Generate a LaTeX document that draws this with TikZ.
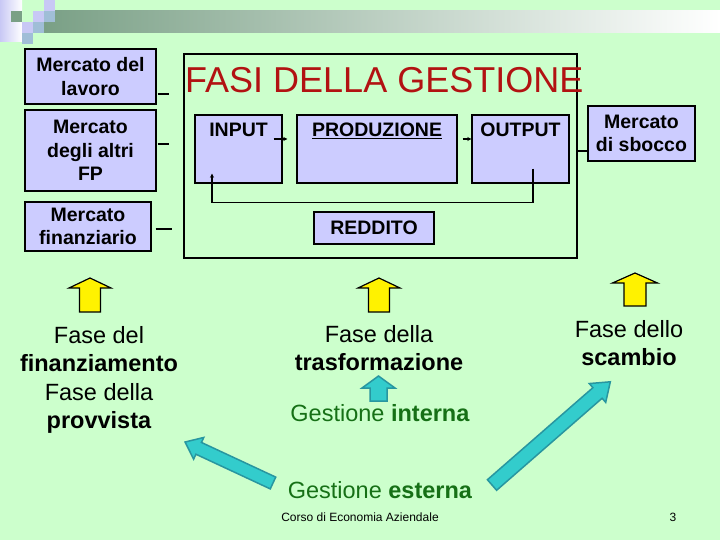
\documentclass[tikz,border=0pt]{standalone}
\usepackage{fontspec}
\setmainfont{Liberation Sans}
\usetikzlibrary{positioning,arrows.meta}

\definecolor{sfondo}{RGB}{204,255,204}
\definecolor{lilla}{RGB}{204,204,255}
\definecolor{rosso}{RGB}{178,18,18}
\definecolor{verde}{RGB}{22,112,22}
\definecolor{ciano}{RGB}{51,204,204}
\definecolor{cianoscuro}{RGB}{40,150,160}
\definecolor{grigioverde}{RGB}{122,160,134}
\definecolor{azzurrino}{RGB}{160,190,215}
\definecolor{lavanda}{RGB}{200,200,245}

\tikzset{
  mercato/.style={draw, line width=1.4pt, fill=lilla, align=center, inner sep=0pt,
    font=\fontsize{19.5}{23.5}\selectfont\bfseries},
  fase/.style={draw, line width=1.4pt, fill=lilla, inner sep=0pt},
  etichetta/.style={font=\fontsize{19.5}{23.5}\selectfont\bfseries, inner sep=0pt},
  collega/.style={line width=1.2pt},
  freccina/.style={line width=1.2pt, -{Stealth[length=4pt,width=4pt]}},
  testo/.style={align=center, inner sep=0pt, font=\fontsize{23.5}{28.5}\selectfont},
  giallo/.style={fill=yellow, draw=black, line width=1.2pt},
  turchese/.style={fill=ciano, draw=cianoscuro, line width=1.5pt},
  pics/blocco/.style args={#1/#2/#3/#4}{code={%
    \path[pic actions] (0,-#2) -- (#1-#4,-#2) -- (#1-#4,-#3) -- (#1,0)
      -- (#1-#4,#3) -- (#1-#4,#2) -- (0,#2) -- cycle;}}
}

\begin{document}
\begin{tikzpicture}[x=1pt,y=-1pt]
  \fill[sfondo] (0,0) rectangle (720,540);
  \useasboundingbox (0,0) rectangle (720,540);

  % fascia in alto
  \shade[left color=grigioverde, right color=white] (44,11) rectangle (720,33);
  \shade[left color=lavanda, right color=white] (0,0) rectangle (22,42);
  \fill[grigioverde] (11,11) rectangle (22,22);
  \fill[lavanda] (22,22) rectangle (33,33);
  \fill[lavanda] (33,11) rectangle (44,22);
  \fill[lavanda] (44,0) rectangle (55,11);
  \fill[azzurrino] (22,33) rectangle (33,44);
  \fill[azzurrino] (33,22) rectangle (44,33);
  \fill[azzurrino] (44,11) rectangle (55,22);

  % mercati
  \node[mercato, minimum width=131, minimum height=55] (lavoro) at (90.5,76.5) {Mercato del\\lavoro};
  \node[mercato, minimum width=131, minimum height=81] (altri) at (90.5,150.5) {Mercato\\degli altri\\FP};
  \node[mercato, minimum width=126, minimum height=49] (finanz) at (88,226.5) {Mercato\\finanziario};
  \node[mercato, minimum width=107, minimum height=55] (sbocco) at (641.5,133.5) {Mercato\\di sbocco};

  \draw[collega] ([xshift=1pt,yshift=-17.5pt]lavoro.east) -- ++(11,0);
  \draw[collega] ([xshift=1pt,yshift=6.5pt]altri.east) -- ++(11,0);
  \draw[collega] ([xshift=4pt,yshift=-2.5pt]finanz.east) -- ++(16,0);

  % gestione
  \node[draw, line width=1.4pt, minimum width=393, minimum height=204, inner sep=0pt] (gestione) at (380.5,156) {};
  \node[anchor=base west, inner sep=0pt, text=rosso, font=\fontsize{36}{40}\selectfont] (titolo) at (185,93) {FASI DELLA GESTIONE};

  \node[fase, minimum width=87, minimum height=68] (input) at (238.5,149) {};
  \node[fase, minimum width=160, minimum height=68] (prod) at (377,149) {};
  \node[fase, minimum width=97, minimum height=68] (output) at (520.5,149) {};
  \node[mercato, minimum width=120, minimum height=32] (reddito) at (374,228) {REDDITO};

  \node[etichetta, anchor=base] (inputlbl) at ([yshift=-22pt]input.north) {INPUT};
  \node[etichetta, anchor=base] (prodlbl) at ([yshift=-22pt]prod.north) {\underline{PRODUZIONE}};
  \node[etichetta, anchor=base] (outputlbl) at ([yshift=-22pt]output.north) {OUTPUT};

  \draw[freccina] ([shift={(-9pt,10pt)}]input.east) -- ([shift={(-9pt,10pt)}]prod.west);
  \draw[freccina] ([shift={(5pt,10pt)}]prod.east) -- ([yshift=10pt]output.west);
  \draw[freccina] ([xshift=12.5pt,yshift=15pt]output.south) -- ++(0,34)
    -| ([xshift=-26.5pt,yshift=10pt]input.south);
  \draw[collega] ([yshift=-17.5pt]sbocco.west) -- ([yshift=-17.5pt]sbocco.west -| gestione.east);

  % fasi
  \pic[giallo, rotate=90] at (90,312) {blocco=34/10.5/21/10};
  \pic[giallo, rotate=90] at (379,312) {blocco=34/10.5/21/10};
  \pic[giallo, rotate=90] at (635,306) {blocco=33/11/22.5/10};

  \node[testo] (provvista) at (99,380) {Fase del\\\textbf{finanziamento}\\Fase della\\\textbf{provvista}};
  \node[testo] (trasf) at (379,348) {Fase della\\\textbf{trasformazione}};
  \node[testo] (scambio) at (629,343) {Fase dello\\\textbf{scambio}};

  \pic[turchese, rotate=90] at (378.5,401) {blocco=25/8.5/16.5/12};
  \node[testo, text=verde] (interna) at (380,413) {Gestione \textbf{interna}};
  \node[testo, text=verde] (esterna) at (380,490) {Gestione \textbf{esterna}};
  \pic[turchese, rotate=155] at (273,483) {blocco=97/6.5/12/15};
  \pic[turchese, rotate=41.1] at (492,485) {blocco=157/7/12.5/17};

  % pie di pagina
  \node[font=\fontsize{12}{14}\selectfont, inner sep=0pt] (corso) at (360,517) {Corso di Economia Aziendale};
  \node[font=\fontsize{12}{14}\selectfont, inner sep=0pt] (pagina) at (673,517) {3};
\end{tikzpicture}
\end{document}
